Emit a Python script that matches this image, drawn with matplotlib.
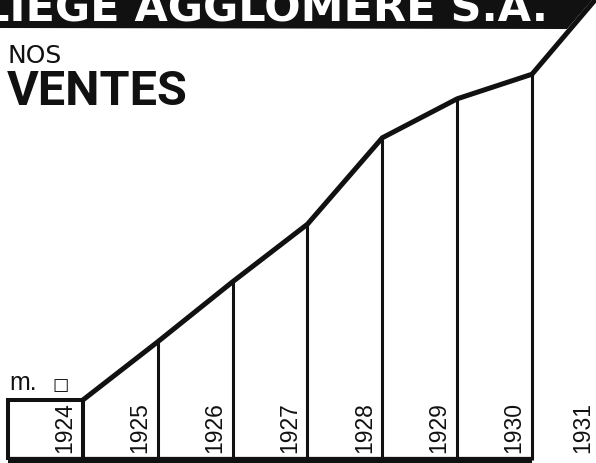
import matplotlib
matplotlib.use("Agg")
import matplotlib.pyplot as plt
from matplotlib.patches import Polygon

# ---- data ----
years = [1924, 1925, 1926, 1927, 1928, 1929, 1930, 1931]
sales = [1.0, 1.97, 2.97, 3.93, 5.37, 6.02, 6.43, 7.9]   # in units of the 1924 box ("m. □")
year_labels = [str(y) for y in years]
banner_text = "LIÈGE AGGLOMÉRÉ S.A."
title_small = "NOS"
title_big = "VENTES"
unit_text = "m."

W, H, DPI = 596, 463, 100
fig = plt.figure(figsize=(W / DPI, H / DPI), dpi=DPI)
fig.patch.set_facecolor("white")

ax = fig.add_axes([0, 0, 1, 1])
ax.set_axis_off()
# one column per year, columns start at x = year
ax.set_xlim(1923.893, 1931.855)
ax.set_ylim(-0.05, 7.667)

INK = "#111111"

# 1924 box (unit reference)
x0 = years[0]
ax.plot([x0, x0, x0 + 1, x0 + 1], [0, sales[0], sales[0], 0], color=INK, lw=2.9,
        solid_joinstyle="miter", solid_capstyle="butt")

# sales line, drawn at the right edge of each year column
line_x = [y + 1 for y in years]
ax.plot(line_x, sales, color=INK, lw=3.6, solid_joinstyle="miter", solid_capstyle="round",
        clip_on=True)

# vertical separators
for y, v in zip(years[1:-1], sales[1:-1]):
    ax.plot([y + 1, y + 1], [0, v], color=INK, lw=2.2, solid_capstyle="butt")

# baseline
ax.plot([years[0], years[-1]], [0, 0], color=INK, lw=4.5, solid_capstyle="butt")

# year labels
for i, (y, lab) in enumerate(zip(years, year_labels)):
    off = 0.76 if i < len(years) - 1 else 0.68
    ax.text(y + off, 0.12, lab, rotation=90, ha="center", va="bottom",
            fontsize=16.5, family=["Liberation Sans", "DejaVu Sans"], color=INK)

# unit legend "m. □"
ax.text(years[0] + 0.02, sales[0] + 0.17, unit_text, ha="left", va="baseline",
        fontsize=18, family=["Liberation Sans", "DejaVu Sans"], color=INK)
ax.text(years[0] + 0.6, sales[0] + 0.17, "□", ha="left", va="baseline",
        fontsize=12.5, fontweight="bold", family=["DejaVu Sans"], color=INK)

# banner
def fx(px):
    return px / W

def fy(py):
    return 1 - py / H

banner = Polygon([(fx(-5), fy(-5)), (fx(597), fy(-5)), (fx(592), fy(0)), (fx(567), fy(29)),
                  (fx(-5), fy(28))], closed=True, transform=fig.transFigure,
                 facecolor=INK, edgecolor="none")
fig.patches.append(banner)
fig.text(fx(-18), fy(22), banner_text, ha="left", va="baseline", color="white",
         fontsize=31, fontweight="bold", family=["DejaVu Sans"])

# titles
fig.text(fx(7), fy(63), title_small, ha="left", va="baseline", color=INK,
         fontsize=18, family=["DejaVu Sans"])
fig.text(fx(7), fy(105), title_big, ha="left", va="baseline", color=INK,
         fontsize=35, fontweight="bold", family=["Roboto", "DejaVu Sans"])

fig.savefig("out.png", dpi=DPI, facecolor="white")
